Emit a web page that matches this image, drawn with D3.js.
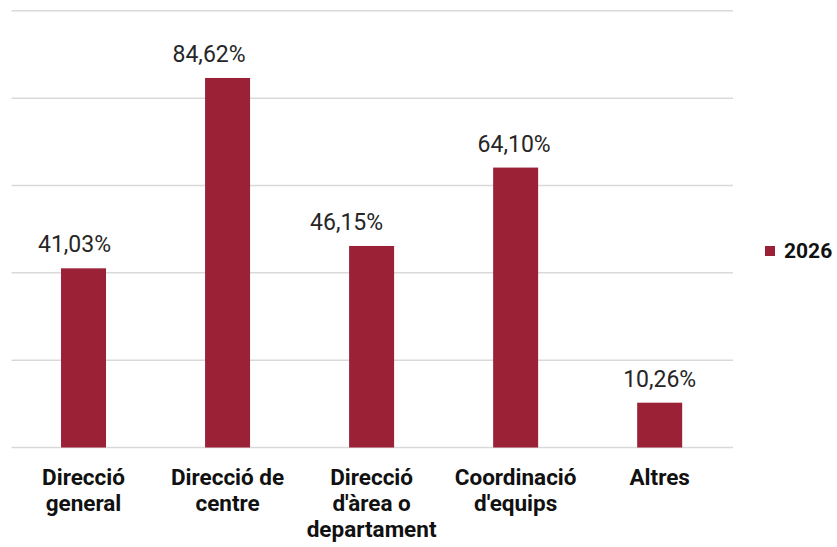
<!DOCTYPE html>
<html><head><meta charset="utf-8">
<script src="https://cdn.jsdelivr.net/npm/d3@7"></script>
<style>body{margin:0;background:#fff;}svg{display:block;font-family:Roboto,sans-serif;}</style>
</head><body>
<script>
const categories = ["Direcció general", "Direcció de centre", "Direcció d'àrea o departament", "Coordinació d'equips", "Altres"];
const values2026 = [41.03, 84.62, 46.15, 64.10, 10.26];
const yTicks = [0, 20, 40, 60, 80, 100];
const seriesName = "2026";
// horizontal nudges of the data labels as placed in the original
const labelDx = [-9, -18.5, -25, -1.5, 0];

const W = 837, H = 547;
const svg = d3.select("body").append("svg").attr("width", W).attr("height", H);
const x = d3.scaleBand().domain(categories).range([11.5, 731.7]).paddingInner(0.6875).paddingOuter(0.34375);
const y = d3.scaleLinear().domain([0, 100]).range([447.5, 10.8]);

svg.append("g").selectAll("line").data(yTicks).join("line")
  .attr("x1", 11.5).attr("x2", 733)
  .attr("y1", d => y(d)).attr("y2", d => y(d))
  .attr("stroke", "#d9d9d9").attr("stroke-width", 1.5);

svg.append("g").selectAll("rect").data(values2026).join("rect")
  .attr("x", (d, i) => x(categories[i]))
  .attr("width", x.bandwidth())
  .attr("y", d => y(d))
  .attr("height", d => y(0) - y(d))
  .attr("fill", "#9b2236");

const fmt = v => v.toFixed(2).replace(".", ",") + "%";
svg.append("g").selectAll("text").data(values2026).join("text")
  .attr("x", (d, i) => x(categories[i]) + x.bandwidth() / 2 + labelDx[i])
  .attr("y", d => y(d) - 16)
  .attr("text-anchor", "middle")
  .attr("font-size", 23).attr("fill", "#262626")
  .text(d => fmt(d));

// category labels with wrapping
const maxW = 135;
const lab = svg.append("g");
categories.forEach(c => {
  const cx = x(c) + x.bandwidth() / 2;
  const t = lab.append("text").attr("text-anchor", "middle").attr("font-size", 22.5)
    .attr("font-weight", "bold").attr("fill", "#111")
    .attr("x", cx).attr("y", 484.5);
  const words = c.split(" ");
  let line = [];
  let ts = t.append("tspan").attr("x", cx).attr("dy", 0);
  words.forEach(w => {
    line.push(w);
    ts.text(line.join(" "));
    if (ts.node().getComputedTextLength() > maxW && line.length > 1) {
      line.pop();
      ts.text(line.join(" "));
      line = [w];
      ts = t.append("tspan").attr("x", cx).attr("dy", 26.2).text(w);
    }
  });
});

// legend
svg.append("rect").attr("x", 765).attr("y", 246).attr("width", 10).attr("height", 10).attr("fill", "#9b2236");
svg.append("text").attr("x", 784).attr("y", 257.5).attr("font-size", 21).attr("font-weight", "bold")
  .attr("fill", "#111").text(seriesName);
</script>
</body></html>
